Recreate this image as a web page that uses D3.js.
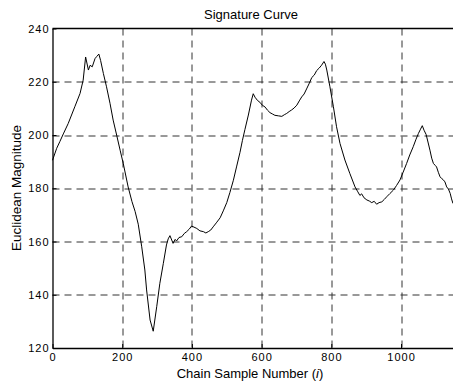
<!DOCTYPE html>
<html>
<head>
<meta charset="utf-8">
<script src="https://cdn.jsdelivr.net/npm/d3@7"></script>
<style>
  body { margin: 0; background: #fff; }
  svg text { font-family: "Liberation Sans", Arial, sans-serif; fill: #000; }
</style>
</head>
<body>
<svg id="chart" width="453" height="383"></svg>
<script>
// sample index along the chain
const sampleIdx = [
  0, 12, 21, 31, 45, 64, 79, 88, 95, 103, 108, 114, 122, 127, 133, 138, 146, 155, 165, 174,
  184, 194, 203, 217, 228, 237, 246, 256, 265, 270, 280, 289, 299, 308, 318, 327, 332, 337,
  346, 352, 356, 363, 371, 378, 385, 392, 399, 406, 414, 423, 433, 440, 447, 454, 461, 470,
  481, 490, 500, 509, 519, 528, 538, 545, 552, 562, 571, 576, 581, 588, 595, 602, 610, 617,
  624, 631, 638, 648, 658, 665, 672, 679, 686, 693, 701, 708, 715, 722, 729, 737, 744, 751,
  758, 765, 772, 779, 783, 787, 796, 806, 815, 825, 839, 853, 868, 875, 882, 887, 894, 902,
  909, 916, 923, 930, 937, 945, 952, 959, 968, 978, 987, 997, 1006, 1016, 1025, 1035, 1043,
  1050, 1056, 1061, 1066, 1072, 1078, 1083, 1088, 1093, 1098, 1102, 1107, 1112, 1117, 1121,
  1126, 1131, 1136, 1141, 1145, 1149
];
// euclidean magnitude
const magnitude = [
  190.5, 195.0, 197.5, 200.4, 204.3, 210.6, 215.6, 220.6, 229.3, 224.4, 226.2, 225.6, 228.7, 229.5, 230.4, 228.0, 223.1, 218.1, 211.9, 205.6,
  200.0, 194.3, 189.3, 180.5, 175.0, 171.3, 166.5, 158.0, 149.3, 141.8, 130.5, 126.3, 135.5, 144.3, 151.8, 158.7, 161.0, 162.2,
  159.3, 160.8, 160.2, 161.5, 161.8, 163.0, 163.7, 164.6, 165.8, 165.4, 164.9, 164.0, 163.7, 163.2, 163.7, 164.3, 165.5, 167.0,
  168.9, 171.5, 174.6, 178.4, 183.0, 188.0, 193.5, 198.0, 202.0, 207.5, 213.1, 215.5, 214.2, 213.0, 212.3, 211.2, 210.5, 209.3,
  208.4, 207.9, 207.4, 207.2, 207.0, 207.6, 208.1, 208.8, 209.4, 210.1, 211.2, 212.8, 214.3, 215.4, 217.3, 219.5, 221.6, 222.5,
  224.2, 225.1, 226.2, 227.6, 226.6, 224.4, 218.1, 210.6, 203.1, 196.8, 190.6, 185.6, 180.5, 178.9, 177.3, 177.9, 176.4, 175.6,
  175.2, 174.6, 175.1, 174.0, 174.6, 174.9, 175.8, 176.8, 178.0, 179.3, 181.0, 183.1, 186.0, 189.3, 192.5, 195.6, 198.4,
  200.6, 202.2, 203.5, 201.8, 200.2, 197.0, 194.3, 191.3, 189.3, 188.6, 188.0, 186.0, 184.3, 183.6, 183.2,
  182.4, 180.5, 179.7, 178.1, 176.0, 174.3
];
const xTicks = [0, 200, 400, 600, 800, 1000];
const yTicks = [120, 140, 160, 180, 200, 220, 240];

const margin = {top: 28.5, left: 52.5};
const plotW = 400.8, plotH = 348 - 28.5;

const svg = d3.select('#chart');
const g = svg.append('g').attr('transform', `translate(${margin.left},${margin.top})`);

const x = d3.scaleLinear().domain([0, 1150]).range([0, plotW]);
const y = d3.scaleLinear().domain([120, 240]).range([plotH, 0]);

// grid lines (dashed)
g.append('g').selectAll('line')
  .data(xTicks.slice(1))
  .join('line')
  .attr('x1', d => Math.round(x(d)) + 0.5)
  .attr('x2', d => Math.round(x(d)) + 0.5)
  .attr('y1', 0)
  .attr('y2', plotH)
  .attr('stroke', '#333')
  .attr('stroke-width', 1)
  .attr('stroke-dasharray', '7,5');

g.append('g').selectAll('line')
  .data(yTicks.slice(1, -1))
  .join('line')
  .attr('x1', 0)
  .attr('x2', plotW)
  .attr('y1', d => Math.round(y(d)) + 0.5)
  .attr('y2', d => Math.round(y(d)) + 0.5)
  .attr('stroke', '#333')
  .attr('stroke-width', 1)
  .attr('stroke-dasharray', '7,5');

// axes with inward ticks
const xAxis = g.append('g')
  .attr('transform', `translate(0,${plotH})`)
  .call(d3.axisBottom(x).tickValues(xTicks).tickFormat(d3.format('d'))
    .tickSizeInner(-4).tickSizeOuter(0).tickPadding(5));
const yAxis = g.append('g')
  .call(d3.axisLeft(y).tickValues(yTicks).tickFormat(d3.format('d'))
    .tickSizeInner(-4).tickSizeOuter(0).tickPadding(3));

[xAxis, yAxis].forEach(a => {
  a.select('.domain').attr('stroke', '#000').attr('stroke-width', 1.3);
  a.selectAll('.tick line').attr('stroke', '#000');
  a.selectAll('.tick text')
    .style('font-size', '11px')
    .style('letter-spacing', '1px')
    .attr('fill', '#000');
});
xAxis.selectAll('.tick text').attr('dy', '0.71em');

// top border
g.append('line')
  .attr('x1', 0).attr('x2', plotW)
  .attr('y1', 0).attr('y2', 0)
  .attr('stroke', '#000').attr('stroke-width', 1.3);

// the curve
const line = d3.line()
  .x((d, i) => x(sampleIdx[i]))
  .y(d => y(d));

g.append('path')
  .datum(magnitude)
  .attr('fill', 'none')
  .attr('stroke', '#000')
  .attr('stroke-width', 1)
  .attr('d', line);

// title and labels
svg.append('text')
  .attr('x', 251)
  .attr('y', 19)
  .attr('text-anchor', 'middle')
  .style('font-size', '13px')
  .text('Signature Curve');

const xl = svg.append('text')
  .attr('x', 250)
  .attr('y', 378)
  .attr('text-anchor', 'middle')
  .style('font-size', '13px');
xl.append('tspan').text('Chain Sample Number (');
xl.append('tspan').style('font-style', 'italic').text('i');
xl.append('tspan').text(')');

svg.append('text')
  .attr('transform', 'translate(21,188) rotate(-90)')
  .attr('text-anchor', 'middle')
  .style('font-size', '13.5px')
  .text('Euclidean Magnitude');
</script>
</body>
</html>
